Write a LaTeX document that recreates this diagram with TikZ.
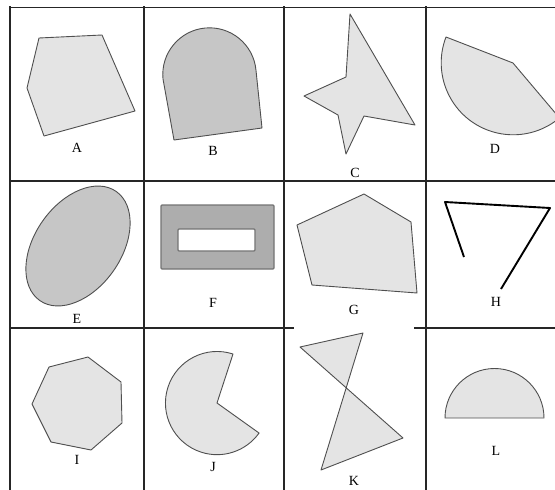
\documentclass[tikz,border=0pt]{standalone}
\usepackage{fontspec}
\setmainfont{Liberation Serif}
\definecolor{lightfill}{HTML}{E4E4E4}
\definecolor{darkfill}{HTML}{C6C6C6}
\definecolor{framefill}{HTML}{ADADAD}
\definecolor{edge}{HTML}{4F4F4F}

\begin{document}
\begin{tikzpicture}[
  x=1pt,y=-1pt,
  rule/.style={draw=black!85,line width=1.1pt},
  light/.style={draw=edge,fill=lightfill,line width=0.9pt,line join=round},
  dark/.style={draw=edge,fill=darkfill,line width=0.9pt,line join=round},
  stroke/.style={draw=black,line width=1.9pt,line join=round},
  labl/.style={inner sep=0pt,font=\fontsize{14}{16}\selectfont}
]
\useasboundingbox (0,0) rectangle (555,490);
\clip (0,0) rectangle (555,490);

% Table rules
\foreach \x in {10,144,284,426,566}
  \draw[rule] (\x,6) -- (\x,500);
\draw[rule] (10,7.5) -- (566,7.5);
\draw[rule] (10,181) -- (566,181);
\draw[rule] (10,328) -- (294,328);
\draw[rule] (414,328) -- (566,328);

% Row one
\draw[light] (39,38) -- (102,35) -- (135,111) -- (44,136) -- (27,88) -- cycle;
\draw[dark] (174,140) -- (163,79) arc[start angle=174.5,end angle=354.5,radius=46.7]
  -- (262,128) -- cycle;
\draw[light] (350,14) -- (415,125) -- (364,116) -- (346,154) -- (338,115)
  -- (304,96) -- (346,77) -- cycle;
\draw[light] (513,63) -- (446,37) arc[start angle=201,end angle=50,radius=72] -- cycle;

% Row two
\draw[dark,rotate around={55:(78,246)}] (78,246) ellipse[x radius=66.6pt,y radius=43.3pt];
\draw[draw=black!55,fill=framefill,line width=1.3pt,rounded corners=1pt]
  (161,205) rectangle (274,269);
\draw[draw=black!55,fill=white,line width=1.3pt,rounded corners=1pt]
  (178,229) rectangle (255,251);
\draw[light] (364,194) -- (411,222) -- (417,293) -- (312,285) -- (297,225) -- cycle;
\draw[stroke] (464,257) -- (445,202) -- (550,208) -- (501,289);

% Row three
\draw[light] (88,357) -- (121,382) -- (122,423) -- (91,450) -- (51,442)
  -- (32,404) -- (49,367) -- cycle;
\draw[light] (217,403) -- (233,354) arc[start angle=288,end angle=35.5,radius=51.6] -- cycle;
\draw[light] (300,347) -- (363,333) -- (321,470) -- (403,438) -- cycle;
\draw[light] (445,418) arc[start angle=180,end angle=360,radius=49.5] -- cycle;

% Labels
\node[labl] (lA) at (77,148) {A};
\node[labl] (lB) at (213,151) {B};
\node[labl] (lC) at (355,173) {C};
\node[labl] (lD) at (495,149) {D};
\node[labl] (lE) at (77,319) {E};
\node[labl] (lF) at (213,303) {F};
\node[labl] (lG) at (354,310) {G};
\node[labl] (lH) at (496,302) {H};
\node[labl] (lI) at (77,460) {I};
\node[labl] (lJ) at (213,467) {J};
\node[labl] (lK) at (354,481) {K};
\node[labl] (lL) at (496,451) {L};

\end{tikzpicture}
\end{document}
